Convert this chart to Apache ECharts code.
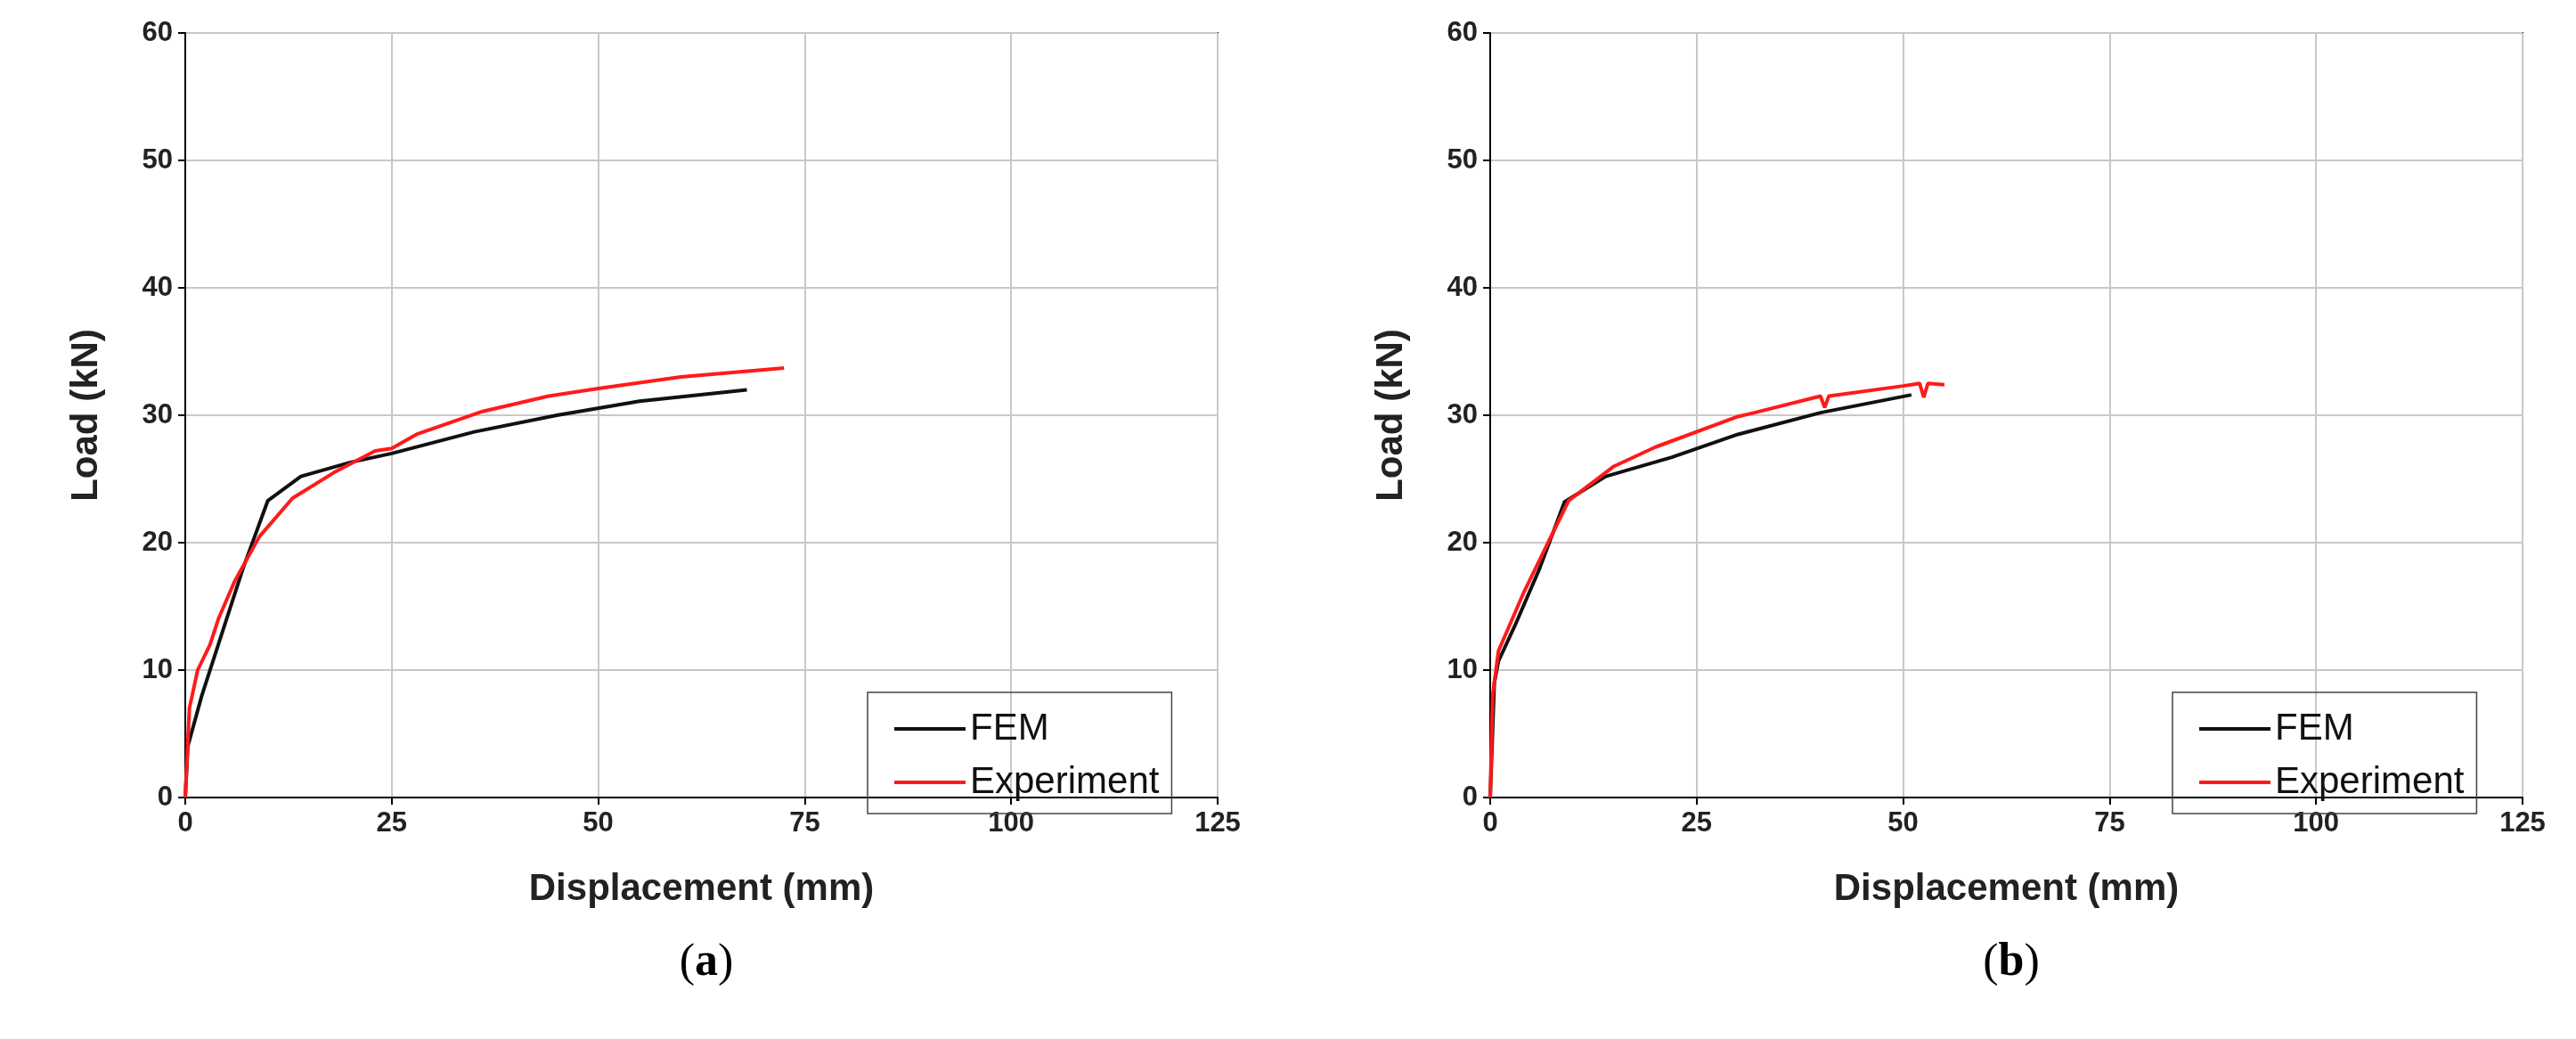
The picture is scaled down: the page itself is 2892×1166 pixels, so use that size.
<!DOCTYPE html>
<html><head><meta charset="utf-8">
<script src="https://cdn.jsdelivr.net/npm/echarts@6/dist/echarts.min.js"></script>
<style>html,body{margin:0;background:#fff}#main{width:2892px;height:1166px}</style>
</head><body><div id="main"></div>
<script>
var femA = [[0,0],[0.3,4],[2,8],[4,12],[7,18],[10,23.3],[14,25.2],[20,26.3],[25,27],[35,28.7],[45,30],[55,31.1],[68,32]];
var expA = [[0,0],[0.5,7],[1.5,10],[3,12],[4,14],[6,17],[9,20.5],[13,23.5],[18,25.5],[23,27.2],[25,27.4],[28,28.5],[36,30.3],[44,31.5],[50,32.1],[60,33],[72.5,33.7]];
var femB = [[0,0],[0.5,9],[1,10.7],[3,13.5],[6,18],[9,23.2],[14,25.2],[22,26.7],[30,28.5],[40,30.2],[51,31.6]];
var expB = [[0,0],[0.3,8],[1,11.5],[4,16],[7,20],[9.5,23.3],[15,26],[20,27.5],[30,29.9],[32,30.2],[40,31.5],[40.5,30.6],[41,31.5],[50,32.3],[52,32.5],[52.5,31.4],[53,32.5],[55,32.4]];
var panels = ['a', 'b'];

var myChart = echarts.init(document.getElementById('main'));
var lefts = [208, 1673];
var font = 'Liberation Sans';

function axisX(i) {
  return {
    gridIndex: i, type: 'value', min: 0, max: 125, interval: 25,
    name: 'Displacement (mm)', nameLocation: 'middle', nameGap: 82,
    nameTextStyle: {fontFamily: font, fontWeight: 'bold', fontSize: 42, color: '#222'},
    axisLine: {lineStyle: {color: '#000', width: 2}},
    axisTick: {show: true, length: 8, lineStyle: {color: '#000', width: 2}},
    axisLabel: {fontFamily: font, fontWeight: 'bold', fontSize: 31, color: '#222', margin: 14},
    splitLine: {lineStyle: {color: '#c8c8c8', width: 2}}
  };
}
function axisY(i) {
  return {
    gridIndex: i, type: 'value', min: 0, max: 60, interval: 10,
    name: 'Load (kN)', nameLocation: 'middle', nameGap: 90,
    nameTextStyle: {fontFamily: font, fontWeight: 'bold', fontSize: 42, color: '#222'},
    axisLine: {lineStyle: {color: '#000', width: 2}},
    axisTick: {show: true, length: 8, lineStyle: {color: '#000', width: 2}},
    axisLabel: {fontFamily: font, fontWeight: 'bold', fontSize: 31, color: '#222', margin: 14},
    splitLine: {lineStyle: {color: '#c8c8c8', width: 2}}
  };
}
function line(name, data, i, color) {
  return {name: name, type: 'line', data: data, xAxisIndex: i, yAxisIndex: i,
    showSymbol: false, lineStyle: {color: color, width: 4}, itemStyle: {color: color}};
}
function legend(i) {
  return {
    left: lefts[i] + 766, top: 777, orient: 'vertical',
    data: ['FEM', 'Experiment'],
    borderColor: '#444', borderWidth: 1.5, padding: [20, 14, 14, 30], itemGap: 18,
    itemWidth: 80, itemHeight: 4, icon: 'rect',
    textStyle: {fontFamily: font, fontSize: 42, color: '#111', width: 250}
  };
}

var option = {
  animation: false,
  grid: [0, 1].map(function (i) {
    return {left: lefts[i], width: 1159, top: 37, height: 858, show: true,
      borderColor: '#000', borderWidth: 2, backgroundColor: 'transparent'};
  }),
  xAxis: [axisX(0), axisX(1)],
  yAxis: [axisY(0), axisY(1)],
  legend: [legend(0), legend(1)],
  title: panels.map(function (t, i) {
    return {text: '(' + '{b|' + t + '})', left: lefts[i] + 580, top: 1050, textAlign: 'center',
      textStyle: {fontFamily: 'Liberation Serif', fontSize: 52, fontWeight: 'normal', color: '#000',
        rich: {b: {fontFamily: 'Liberation Serif', fontSize: 52, fontWeight: 'bold'}}}};
  }),
  series: [
    line('FEM', femA, 0, '#111'),
    line('Experiment', expA, 0, '#ff1a1a'),
    line('FEM', femB, 1, '#111'),
    line('Experiment', expB, 1, '#ff1a1a')
  ]
};
myChart.setOption(option);
</script></body></html>
